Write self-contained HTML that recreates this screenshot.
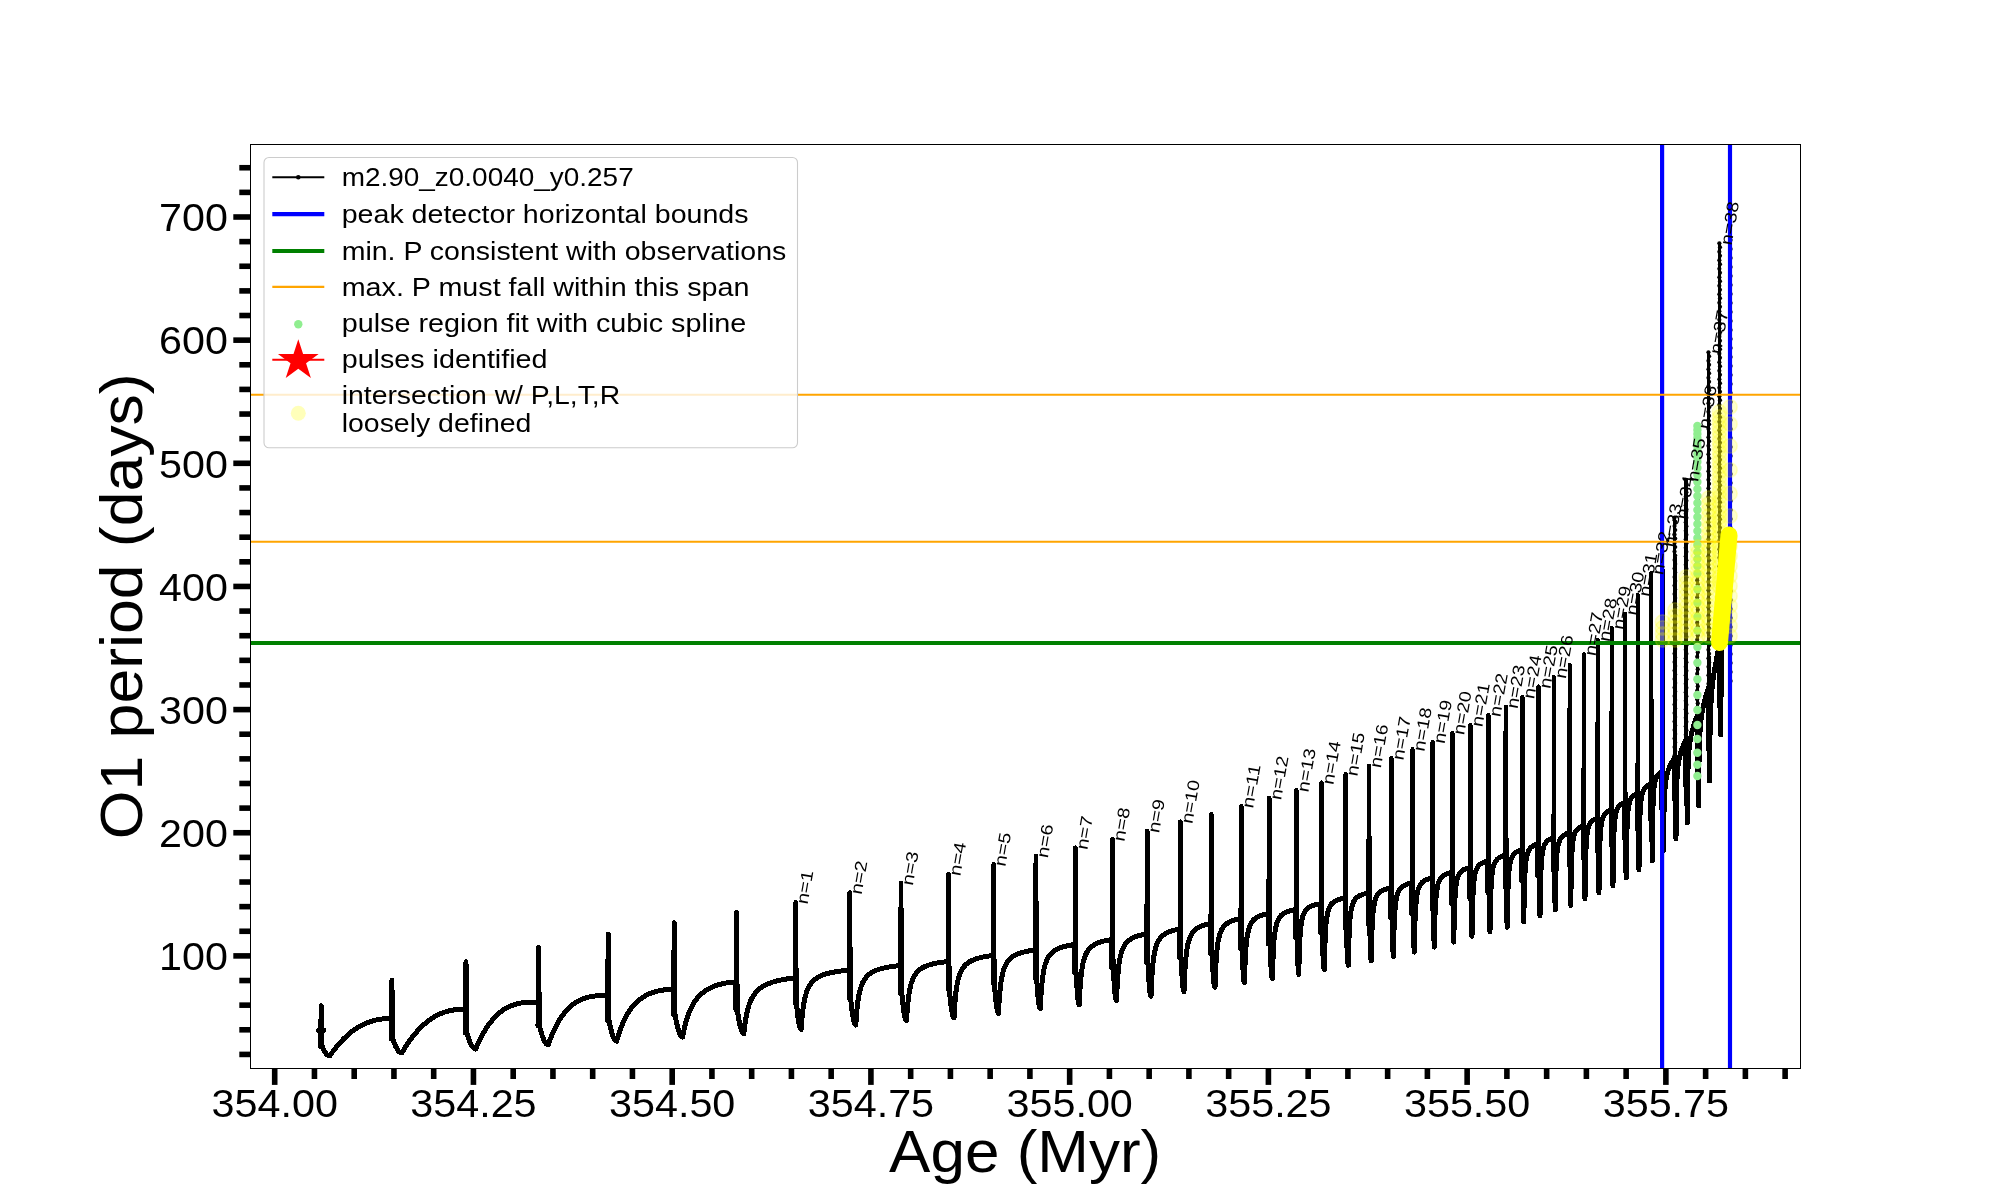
<!DOCTYPE html>
<html><head><meta charset="utf-8"><title>O1 period vs Age</title>
<style>
html,body{margin:0;padding:0;background:#fff;overflow:hidden;}
svg{display:block;font-family:"Liberation Sans",sans-serif;will-change:transform;}
.tk{stroke:#000;stroke-width:5.6;}
.lab text{font-size:16.8px;fill:#000;}
.tl text{font-size:38.5px;fill:#000;}
.lg text{font-size:26.3px;fill:#000;}
</style></head><body>
<svg width="2000" height="1200" viewBox="0 0 2000 1200">
<defs><clipPath id="ax"><rect x="250.5" y="144.5" width="1549.5" height="923.7"/></clipPath></defs>
<rect width="2000" height="1200" fill="#fff"/>
<g clip-path="url(#ax)">
<path d="M318.6 1030.2 L323.6 1030.2 L320.6 1030.2 L320.6 1046.5 M321.9 1045.5 L323.21 1048.68 L324.52 1051.28 L325.82 1053.3 L327.13 1054.74 L328.44 1055.61 L329.75 1055.9 L330.02 1055.51 L330.56 1054.73 L331.3 1053.69 L332.2 1052.43 L333.25 1051.01 L334.44 1049.45 L335.75 1047.78 L337.18 1046.02 L338.72 1044.2 L340.36 1042.34 L342.11 1040.46 L343.96 1038.57 L345.9 1036.69 L347.93 1034.85 L350.05 1033.04 L352.26 1031.3 L354.56 1029.63 L356.93 1028.04 L359.39 1026.54 L361.92 1025.15 L364.53 1023.88 L367.22 1022.73 L369.98 1021.71 L372.82 1020.83 L375.73 1020.08 L378.7 1019.48 L381.75 1019.03 L384.87 1018.72 L388.05 1018.55 L391.3 1018.5 L391.3 1018.5 L391.3 1039 M392.6 1038 L394.13 1042.58 L395.67 1046.33 L397.2 1049.25 L398.73 1051.33 L400.27 1052.58 L401.8 1053 L402.06 1052.55 L402.59 1051.65 L403.32 1050.44 L404.2 1048.99 L405.23 1047.34 L406.4 1045.54 L407.68 1043.6 L409.08 1041.57 L410.59 1039.47 L412.21 1037.32 L413.92 1035.14 L415.73 1032.96 L417.63 1030.8 L419.63 1028.66 L421.71 1026.58 L423.87 1024.56 L426.12 1022.63 L428.45 1020.79 L430.86 1019.06 L433.34 1017.44 L435.91 1015.96 L438.54 1014.61 L441.25 1013.4 L444.03 1012.35 L446.88 1011.45 L449.8 1010.7 L452.79 1010.11 L455.84 1009.68 L458.96 1009.39 L462.15 1009.24 L465.4 1009.2 L465.4 1009.2 L465.4 1033 M466.7 1032 L468.18 1037.19 L469.67 1041.44 L471.15 1044.75 L472.63 1047.11 L474.12 1048.53 L475.6 1049 L475.86 1048.4 L476.38 1047.19 L477.09 1045.58 L477.96 1043.67 L478.97 1041.53 L480.11 1039.2 L481.37 1036.75 L482.74 1034.21 L484.23 1031.62 L485.81 1029.03 L487.49 1026.45 L489.27 1023.92 L491.14 1021.47 L493.09 1019.11 L495.13 1016.87 L497.26 1014.77 L499.46 1012.81 L501.75 1011.01 L504.11 1009.38 L506.55 1007.92 L509.06 1006.64 L511.65 1005.53 L514.31 1004.59 L517.03 1003.82 L519.83 1003.2 L522.69 1002.73 L525.63 1002.4 L528.62 1002.18 L531.68 1002.06 L534.81 1002.01 L538 1002 L538 1002 L538 1026 M539.3 1025 L540.78 1031.05 L542.27 1036 L543.75 1039.85 L545.23 1042.6 L546.72 1044.25 L548.2 1044.8 L548.47 1044.01 L549.02 1042.45 L549.78 1040.4 L550.7 1037.98 L551.77 1035.32 L552.98 1032.48 L554.31 1029.55 L555.77 1026.57 L557.34 1023.6 L559.01 1020.69 L560.79 1017.86 L562.68 1015.16 L564.65 1012.59 L566.72 1010.19 L568.89 1007.96 L571.14 1005.92 L573.47 1004.07 L575.89 1002.41 L578.4 1000.95 L580.98 999.68 L583.64 998.6 L586.38 997.69 L589.19 996.96 L592.08 996.39 L595.04 995.97 L598.08 995.68 L601.18 995.5 L604.36 995.42 L607.6 995.4 L607.6 995.4 L607.6 1020.6 M608.9 1019.6 L610.18 1026.2 L611.47 1031.6 L612.75 1035.8 L614.03 1038.8 L615.32 1040.6 L616.6 1041.2 L616.88 1040.21 L617.44 1038.26 L618.2 1035.74 L619.13 1032.84 L620.22 1029.71 L621.45 1026.46 L622.8 1023.19 L624.28 1019.95 L625.87 1016.8 L627.58 1013.78 L629.38 1010.92 L631.29 1008.23 L633.3 1005.73 L635.4 1003.42 L637.6 1001.3 L639.88 999.38 L642.25 997.64 L644.71 996.1 L647.25 994.73 L649.87 993.54 L652.57 992.52 L655.35 991.65 L658.21 990.94 L661.14 990.37 L664.15 989.93 L667.23 989.63 L670.38 989.46 L673.6 989.4 L673.6 989.4 L673.6 1014.6 M674.9 1013.6 L676.18 1020.75 L677.47 1026.6 L678.75 1031.15 L680.03 1034.4 L681.32 1036.35 L682.6 1037 L682.89 1035.39 L683.48 1032.32 L684.28 1028.54 L685.27 1024.43 L686.41 1020.26 L687.7 1016.2 L689.13 1012.34 L690.69 1008.74 L692.36 1005.43 L694.15 1002.42 L696.06 999.68 L698.07 997.22 L700.18 995.01 L702.4 993.03 L704.71 991.26 L707.11 989.69 L709.61 988.3 L712.19 987.06 L714.87 985.98 L717.63 985.04 L720.47 984.23 L723.4 983.54 L726.41 982.96 L729.49 982.51 L732.66 982.17 L735.9 982 L735.9 982 L735.9 1009.6 M737.2 1008.6 L738.3 1016.3 L739.4 1022.6 L740.5 1027.5 L741.6 1031 L742.7 1033.1 L743.8 1033.8 L744.1 1030.91 L744.7 1025.79 L745.53 1020.07 L746.53 1014.51 L747.71 1009.45 L749.03 1004.99 L750.49 1001.13 L752.09 997.81 L753.8 994.97 L755.64 992.53 L757.59 990.44 L759.65 988.62 L761.82 987.05 L764.09 985.68 L766.45 984.48 L768.92 983.43 L771.48 982.49 L774.13 981.66 L776.87 980.92 L779.7 980.26 L782.61 979.67 L785.61 979.13 L788.69 978.64 L791.86 978.2 L795.1 977.8 L795.1 977.8 L795.1 1003 M796.4 1002 L797.2 1010.4 L798 1017.28 L798.8 1022.62 L799.6 1026.44 L800.4 1028.74 L801.2 1029.5 L801.52 1024.59 L802.16 1016.63 L803.04 1008.68 L804.12 1001.78 L805.38 996.08 L806.79 991.47 L808.36 987.75 L810.06 984.75 L811.9 982.29 L813.86 980.28 L815.95 978.6 L818.15 977.2 L820.47 976.01 L822.89 975 L825.42 974.13 L828.06 973.37 L830.79 972.72 L833.63 972.14 L836.56 971.63 L839.58 971.18 L842.7 970.78 L845.9 970.42 L849.2 970.1 L849.2 970.1 L849.2 998.5 M850.5 997.5 L851.38 1005.9 L852.27 1012.78 L853.15 1018.12 L854.03 1021.94 L854.92 1024.24 L855.8 1025 L856.12 1019.75 L856.76 1011.36 L857.64 1003.14 L858.72 996.1 L859.97 990.38 L861.38 985.81 L862.94 982.15 L864.64 979.22 L866.47 976.84 L868.43 974.89 L870.51 973.28 L872.71 971.94 L875.02 970.8 L877.44 969.84 L879.97 969.01 L882.59 968.29 L885.32 967.67 L888.15 967.12 L891.07 966.64 L894.09 966.22 L897.2 965.84 L900.4 965.5 L900.4 965.5 L900.4 993 M901.7 992 L902.52 1000.68 L903.33 1007.78 L904.15 1013.3 L904.97 1017.24 L905.78 1019.61 L906.6 1020.4 L906.94 1014.43 L907.64 1005.2 L908.59 996.53 L909.75 989.38 L911.11 983.74 L912.63 979.34 L914.32 975.89 L916.16 973.16 L918.14 970.98 L920.26 969.2 L922.51 967.75 L924.88 966.54 L927.38 965.53 L930 964.68 L932.73 963.94 L935.57 963.31 L938.52 962.77 L941.58 962.29 L944.74 961.87 L948 961.5 L948 961.5 L948 989 M949.3 988 L950.08 997.11 L950.87 1004.56 L951.65 1010.35 L952.43 1014.49 L953.22 1016.97 L954 1017.8 L954.35 1011 L955.06 1000.7 L956.03 991.24 L957.22 983.61 L958.61 977.68 L960.17 973.12 L961.89 969.58 L963.77 966.8 L965.8 964.59 L967.97 962.8 L970.27 961.34 L972.7 960.14 L975.25 959.13 L977.93 958.28 L980.72 957.55 L983.62 956.93 L986.64 956.39 L989.77 955.91 L993 955.5 L993 955.5 L993 983 M994.3 982 L995 991.56 L995.7 999.39 L996.4 1005.47 L997.1 1009.82 L997.8 1012.43 L998.5 1013.3 L998.86 1005.83 L999.59 994.78 L1000.59 984.89 L1001.82 977.08 L1003.24 971.13 L1004.85 966.6 L1006.62 963.13 L1008.55 960.42 L1010.64 958.28 L1012.87 956.56 L1015.24 955.16 L1017.74 954.01 L1020.36 953.05 L1023.12 952.24 L1025.99 951.55 L1028.98 950.96 L1032.08 950.45 L1035.3 950 L1035.3 950 L1035.3 978 M1036.6 977 L1037.22 986.72 L1037.83 994.67 L1038.45 1000.85 L1039.07 1005.27 L1039.68 1007.92 L1040.3 1008.8 L1040.67 1000.58 L1041.42 988.7 L1042.45 978.39 L1043.71 970.43 L1045.17 964.48 L1046.82 960.01 L1048.64 956.62 L1050.63 954 L1052.77 951.94 L1055.06 950.3 L1057.49 948.96 L1060.06 947.87 L1062.76 946.96 L1065.59 946.19 L1068.54 945.54 L1071.61 944.98 L1074.8 944.5 L1074.8 944.5 L1074.8 973 M1076.1 972 L1076.62 982.02 L1077.13 990.22 L1077.65 996.6 L1078.17 1001.16 L1078.68 1003.89 L1079.2 1004.8 L1079.59 995.71 L1080.37 982.96 L1081.45 972.22 L1082.76 964.16 L1084.29 958.23 L1086.01 953.85 L1087.91 950.56 L1089.99 948.04 L1092.22 946.07 L1094.62 944.51 L1097.15 943.24 L1099.84 942.21 L1102.66 941.35 L1105.61 940.63 L1108.69 940.02 L1111.9 939.5 L1111.9 939.5 L1111.9 968 M1113.2 967 L1113.75 977.33 L1114.3 985.78 L1114.85 992.35 L1115.4 997.04 L1115.95 999.86 L1116.5 1000.8 L1116.9 990.63 L1117.7 976.83 L1118.79 965.62 L1120.13 957.42 L1121.69 951.52 L1123.45 947.22 L1125.39 944.03 L1127.51 941.6 L1129.79 939.72 L1132.23 938.23 L1134.83 937.03 L1137.56 936.06 L1140.44 935.25 L1143.45 934.57 L1146.6 934 L1146.6 934 L1146.6 962.5 M1147.9 961.5 L1148.42 972.13 L1148.93 980.83 L1149.45 987.6 L1149.97 992.43 L1150.48 995.33 L1151 996.3 L1151.42 985.04 L1152.28 970.34 L1153.45 958.85 L1154.88 950.69 L1156.55 944.95 L1158.42 940.83 L1160.5 937.8 L1162.76 935.52 L1165.2 933.76 L1167.81 932.38 L1170.58 931.27 L1173.5 930.37 L1176.58 929.62 L1179.8 929 L1179.8 929 L1179.8 958 M1181.1 957 L1181.58 967.63 L1182.07 976.33 L1182.55 983.1 L1183.03 987.93 L1183.52 990.83 L1184 991.8 L1184.44 979.18 L1185.34 963.41 L1186.56 951.62 L1188.05 943.5 L1189.79 937.92 L1191.75 933.98 L1193.92 931.11 L1196.28 928.97 L1198.82 927.33 L1201.55 926.04 L1204.44 925.02 L1207.49 924.18 L1210.7 923.5 L1210.7 923.5 L1210.7 953.5 M1212 952.5 L1212.5 963.13 L1213 971.83 L1213.5 978.6 L1214 983.43 L1214.5 986.33 L1215 987.3 L1215.48 972.13 L1216.46 954.86 L1217.8 943.02 L1219.43 935.35 L1221.33 930.29 L1223.48 926.81 L1225.85 924.33 L1228.43 922.5 L1231.22 921.12 L1234.2 920.04 L1237.36 919.19 L1240.7 918.5 L1240.7 918.5 L1240.7 949 M1242 948 L1242.42 958.63 L1242.83 967.33 L1243.25 974.1 L1243.67 978.93 L1244.08 981.83 L1244.5 982.8 L1244.95 966.27 L1245.87 948.36 L1247.12 936.59 L1248.66 929.2 L1250.44 924.4 L1252.45 921.14 L1254.67 918.84 L1257.1 917.16 L1259.71 915.89 L1262.5 914.9 L1265.47 914.13 L1268.6 913.5 L1268.6 913.5 L1268.6 944 M1269.9 943 L1270.33 953.94 L1270.77 962.89 L1271.2 969.85 L1271.63 974.82 L1272.07 977.81 L1272.5 978.8 L1273 958.81 L1274.02 939.81 L1275.41 928.6 L1277.12 922 L1279.1 917.88 L1281.33 915.17 L1283.81 913.28 L1286.5 911.92 L1289.4 910.9 L1292.5 910.12 L1295.8 909.5 L1295.8 909.5 L1295.8 937.5 M1297.1 936.5 L1297.38 948.14 L1297.67 957.67 L1297.95 965.08 L1298.23 970.37 L1298.52 973.54 L1298.8 974.6 L1299.27 952.18 L1300.24 932.45 L1301.55 921.45 L1303.16 915.19 L1305.03 911.37 L1307.14 908.87 L1309.47 907.16 L1312.02 905.92 L1314.76 905 L1317.69 904.3 L1320.8 903.75 L1320.8 903.75 L1320.8 932.5 M1322.1 931.5 L1322.48 943.14 L1322.87 952.67 L1323.25 960.08 L1323.63 965.37 L1324.02 968.54 L1324.4 969.6 L1324.92 944.46 L1325.97 924.22 L1327.4 913.63 L1329.16 907.81 L1331.2 904.32 L1333.5 902.07 L1336.04 900.53 L1338.81 899.43 L1341.8 898.62 L1345 898 L1345 898 L1345 928.2 M1346.3 927.2 L1346.65 938.84 L1347 948.37 L1347.35 955.77 L1347.7 961.07 L1348.05 964.24 L1348.4 965.3 L1348.9 939.91 L1349.92 919.48 L1351.31 908.78 L1353.02 902.9 L1355 899.38 L1357.23 897.11 L1359.7 895.56 L1362.4 894.45 L1365.3 893.63 L1368.4 893 L1368.4 893 L1368.4 923.8 M1369.7 922.8 L1369.97 934.44 L1370.23 943.97 L1370.5 951.38 L1370.77 956.67 L1371.03 959.84 L1371.3 960.9 L1371.88 932.36 L1373.06 911.67 L1374.66 901.56 L1376.63 896.2 L1378.91 893.04 L1381.49 891.04 L1384.34 889.68 L1387.45 888.71 L1390.8 888 L1390.8 888 L1390.8 918.2 M1392.1 917.2 L1392.33 929.21 L1392.57 939.03 L1392.8 946.67 L1393.03 952.13 L1393.27 955.41 L1393.5 956.5 L1394.05 927.72 L1395.16 906.86 L1396.67 896.67 L1398.53 891.26 L1400.68 888.09 L1403.12 886.06 L1405.81 884.69 L1408.74 883.72 L1411.9 883 L1411.9 883 L1411.9 913.8 M1413.2 912.8 L1413.4 924.84 L1413.6 934.69 L1413.8 942.35 L1414 947.82 L1414.2 951.11 L1414.4 952.2 L1415.04 919.64 L1416.33 898.82 L1418.08 889.38 L1420.24 884.54 L1422.74 881.76 L1425.57 880.01 L1428.7 878.83 L1432.1 878 L1432.1 878 L1432.1 908.8 M1433.4 907.8 L1433.57 919.84 L1433.73 929.69 L1433.9 937.35 L1434.07 942.82 L1434.23 946.11 L1434.4 947.2 L1435.02 914.42 L1436.28 893.46 L1438 883.95 L1440.11 879.09 L1442.56 876.29 L1445.32 874.52 L1448.37 873.34 L1451.7 872.5 L1451.7 872.5 L1451.7 903.8 M1453 902.8 L1453.13 914.84 L1453.27 924.69 L1453.4 932.35 L1453.53 937.82 L1453.67 941.11 L1453.8 942.2 L1454.37 909.42 L1455.54 888.46 L1457.13 878.95 L1459.08 874.09 L1461.34 871.29 L1463.9 869.52 L1466.72 868.34 L1469.8 867.5 L1469.8 867.5 L1469.8 898.3 M1471.1 897.3 L1471.25 909.22 L1471.4 918.97 L1471.55 926.55 L1471.7 931.97 L1471.85 935.22 L1472 936.3 L1472.57 903.26 L1473.72 882.13 L1475.29 872.55 L1477.21 867.64 L1479.45 864.82 L1481.97 863.04 L1484.76 861.84 L1487.8 861 L1487.8 861 L1487.8 892.3 M1489.1 891.3 L1489.25 903.67 L1489.4 913.8 L1489.55 921.67 L1489.7 927.3 L1489.85 930.67 L1490 931.8 L1490.55 898.21 L1491.65 876.73 L1493.16 866.99 L1495.01 862 L1497.17 859.13 L1499.59 857.32 L1502.28 856.11 L1505.2 855.25 L1505.2 855.25 L1505.2 887 M1506.5 886 L1506.63 898.62 L1506.77 908.94 L1506.9 916.97 L1507.03 922.71 L1507.17 926.15 L1507.3 927.3 L1507.82 893.38 L1508.87 871.69 L1510.3 861.85 L1512.05 856.82 L1514.09 853.92 L1516.39 852.09 L1518.93 850.87 L1521.7 850 L1521.7 850 L1521.7 881 M1523 880 L1523.13 892.83 L1523.27 903.33 L1523.4 911.5 L1523.53 917.33 L1523.67 920.83 L1523.8 922 L1524.31 887.77 L1525.33 865.88 L1526.74 855.96 L1528.45 850.88 L1530.45 847.95 L1532.7 846.11 L1535.19 844.87 L1537.9 844 L1537.9 844 L1537.9 875.8 M1539.2 874.8 L1539.33 887.39 L1539.47 897.69 L1539.6 905.7 L1539.73 911.42 L1539.87 914.86 L1540 916 L1540.48 881.77 L1541.45 859.88 L1542.77 849.96 L1544.39 844.88 L1546.27 841.95 L1548.39 840.11 L1550.74 838.87 L1553.3 838 L1553.3 838 L1553.3 869.8 M1554.6 868.8 L1554.72 881.39 L1554.83 891.69 L1554.95 899.7 L1555.07 905.42 L1555.18 908.86 L1555.3 910 L1555.79 876.21 L1556.79 854.6 L1558.15 844.81 L1559.82 839.79 L1561.76 836.9 L1563.95 835.09 L1566.36 833.86 L1569 833 L1569 833 L1569 864.5 M1570.3 863.5 L1570.38 876.33 L1570.47 886.83 L1570.55 895 L1570.63 900.83 L1570.72 904.33 L1570.8 905.5 L1571.25 870.62 L1572.15 848.3 L1573.38 838.19 L1574.89 833.01 L1576.65 830.03 L1578.63 828.15 L1580.81 826.89 L1583.2 826 L1583.2 826 L1583.2 858 M1584.5 857 L1584.58 869.83 L1584.67 880.33 L1584.75 888.5 L1584.83 894.33 L1584.92 897.83 L1585 899 L1585.43 863.68 L1586.32 841.09 L1587.52 830.84 L1588.99 825.6 L1590.7 822.58 L1592.64 820.68 L1594.77 819.4 L1597.1 818.5 L1597.1 818.5 L1597.1 851 M1598.4 850 L1598.5 863.05 L1598.6 873.72 L1598.7 882.03 L1598.8 887.96 L1598.9 891.51 L1599 892.7 L1599.43 856.41 L1600.32 833.2 L1601.52 822.68 L1602.99 817.29 L1604.7 814.19 L1606.64 812.24 L1608.77 810.93 L1611.1 810 L1611.1 810 L1611.1 845.3 M1612.4 844.3 L1612.5 856.95 L1612.6 867.3 L1612.7 875.35 L1612.8 881.1 L1612.9 884.55 L1613 885.7 L1613.41 849.19 L1614.24 825.84 L1615.37 815.26 L1616.76 809.84 L1618.37 806.72 L1620.19 804.75 L1622.21 803.43 L1624.4 802.5 L1624.4 802.5 L1624.4 837.8 M1625.7 836.8 L1625.78 849.39 L1625.87 859.69 L1625.95 867.7 L1626.03 873.42 L1626.12 876.86 L1626.2 878 L1626.6 840.92 L1627.41 817.21 L1628.51 806.46 L1629.86 800.95 L1631.43 797.78 L1633.21 795.79 L1635.16 794.45 L1637.3 793.5 L1637.3 793.5 L1637.3 829 M1638.6 828 L1638.67 840.83 L1638.73 851.33 L1638.8 859.5 L1638.87 865.33 L1638.93 868.83 L1639 870 L1639.42 832.26 L1640.26 808.13 L1641.41 797.19 L1642.83 791.59 L1644.47 788.36 L1646.32 786.33 L1648.37 784.96 L1650.6 784 L1650.6 784 L1650.6 819.6 M1651.9 818.6 L1651.95 831.56 L1652 842.16 L1652.05 850.4 L1652.1 856.29 L1652.15 859.82 L1652.2 861 L1652.55 821.95 L1653.26 796.97 L1654.22 785.65 L1655.4 779.85 L1656.77 776.51 L1658.32 774.41 L1660.03 773 L1661.9 772 L1661.9 772 L1661.9 809 M1663.2 808 L1663.25 821.14 L1663.3 831.89 L1663.35 840.25 L1663.4 846.22 L1663.45 849.81 L1663.5 851 L1663.89 815.62 L1664.69 792.31 L1665.77 780.86 L1667.1 774.04 L1668.64 769.15 L1670.38 765.12 L1672.3 761.48 L1674.4 758 L1674.4 758 L1674.4 799 M1675.5 798 L1675.75 810.53 L1675.8 820.78 L1675.85 828.75 L1675.9 834.44 L1675.95 837.86 L1676 839 L1676.34 802.46 L1677.04 778.23 L1678 766.11 L1679.17 758.69 L1680.53 753.2 L1682.06 748.53 L1683.75 744.21 L1685.6 740 L1685.6 740 L1685.6 785 M1686.7 784 L1686.95 795.92 L1687 805.67 L1687.05 813.25 L1687.1 818.67 L1687.15 821.92 L1687.2 823 L1687.55 785.26 L1688.27 759.98 L1689.24 747.01 L1690.43 738.74 L1691.82 732.35 L1693.38 726.71 L1695.11 721.34 L1697 716 L1697 716 L1697 771 M1698.1 770 L1698.35 781 L1698.4 790 L1698.45 797 L1698.5 802 L1698.55 805 L1698.6 806 L1698.95 764.96 L1699.66 737.38 L1700.62 723.11 L1701.8 713.92 L1703.17 706.72 L1704.72 700.31 L1706.43 694.15 L1708.3 688 L1708.3 688 L1708.3 749 M1709.4 748 L1709.6 758.08 L1709.6 766.33 L1709.6 772.75 L1709.6 777.33 L1709.6 780.08 L1709.6 781 L1709.94 738.32 L1710.64 708.97 L1711.6 692.94 L1712.77 681.83 L1714.13 672.49 L1715.66 663.71 L1717.35 654.96 L1719.2 646 L1719.2 646 L1719.2 706 M1720.3 705 L1720.52 714.17 L1720.53 721.67 L1720.55 727.5 L1720.57 731.67 L1720.58 734.17 L1720.6 735 L1721 700 L1721.4 660 L1722.3 638 L1725 595 L1729 540" fill="none" stroke="#000" stroke-width="5" stroke-linejoin="round" stroke-linecap="round" shape-rendering="crispEdges"/>
<path d="M320.6 1046.5 L321.2 1005.65 L321.9 1045.5" fill="none" stroke="#000" stroke-width="5.0" stroke-linejoin="round" stroke-linecap="round" shape-rendering="crispEdges"/><path d="M391.3 1039 L391.9 979.95 L392.6 1038" fill="none" stroke="#000" stroke-width="5.0" stroke-linejoin="round" stroke-linecap="round" shape-rendering="crispEdges"/><path d="M465.4 1033 L466 961.65 L466.7 1032" fill="none" stroke="#000" stroke-width="5.0" stroke-linejoin="round" stroke-linecap="round" shape-rendering="crispEdges"/><path d="M538 1026 L538.6 947.25 L539.3 1025" fill="none" stroke="#000" stroke-width="5.0" stroke-linejoin="round" stroke-linecap="round" shape-rendering="crispEdges"/><path d="M607.6 1020.6 L608.2 934.05 L608.9 1019.6" fill="none" stroke="#000" stroke-width="5.0" stroke-linejoin="round" stroke-linecap="round" shape-rendering="crispEdges"/><path d="M673.6 1014.6 L674.2 922.65 L674.9 1013.6" fill="none" stroke="#000" stroke-width="5.0" stroke-linejoin="round" stroke-linecap="round" shape-rendering="crispEdges"/><path d="M735.9 1009.6 L736.5 912.55 L737.2 1008.6" fill="none" stroke="#000" stroke-width="5.0" stroke-linejoin="round" stroke-linecap="round" shape-rendering="crispEdges"/><path d="M795.1 1003 L795.7 902.25 L796.4 1002" fill="none" stroke="#000" stroke-width="4.7" stroke-linejoin="round" stroke-linecap="round" shape-rendering="crispEdges"/><path d="M849.2 998.5 L849.8 892.55 L850.5 997.5" fill="none" stroke="#000" stroke-width="4.7" stroke-linejoin="round" stroke-linecap="round" shape-rendering="crispEdges"/><path d="M900.4 993 L901 883.35 L901.7 992" fill="none" stroke="#000" stroke-width="4.7" stroke-linejoin="round" stroke-linecap="round" shape-rendering="crispEdges"/><path d="M948 989 L948.6 873.95 L949.3 988" fill="none" stroke="#000" stroke-width="4.7" stroke-linejoin="round" stroke-linecap="round" shape-rendering="crispEdges"/><path d="M993 983 L993.6 864.35 L994.3 982" fill="none" stroke="#000" stroke-width="4.7" stroke-linejoin="round" stroke-linecap="round" shape-rendering="crispEdges"/><path d="M1035.3 978 L1035.9 856.05 L1036.6 977" fill="none" stroke="#000" stroke-width="4.7" stroke-linejoin="round" stroke-linecap="round" shape-rendering="crispEdges"/><path d="M1074.8 973 L1075.4 847.75 L1076.1 972" fill="none" stroke="#000" stroke-width="4.7" stroke-linejoin="round" stroke-linecap="round" shape-rendering="crispEdges"/><path d="M1111.9 968 L1112.5 839.35 L1113.2 967" fill="none" stroke="#000" stroke-width="4.7" stroke-linejoin="round" stroke-linecap="round" shape-rendering="crispEdges"/><path d="M1146.6 962.5 L1147.2 831.05 L1147.9 961.5" fill="none" stroke="#000" stroke-width="4.7" stroke-linejoin="round" stroke-linecap="round" shape-rendering="crispEdges"/><path d="M1179.8 958 L1180.4 821.75 L1181.1 957" fill="none" stroke="#000" stroke-width="4.7" stroke-linejoin="round" stroke-linecap="round" shape-rendering="crispEdges"/><path d="M1210.7 953.5 L1211.3 814.25 L1212 952.5" fill="none" stroke="#000" stroke-width="4.7" stroke-linejoin="round" stroke-linecap="round" shape-rendering="crispEdges"/><path d="M1240.7 949 L1241.3 806.25 L1242 948" fill="none" stroke="#000" stroke-width="4.7" stroke-linejoin="round" stroke-linecap="round" shape-rendering="crispEdges"/><path d="M1268.6 944 L1269.2 797.85 L1269.9 943" fill="none" stroke="#000" stroke-width="4.7" stroke-linejoin="round" stroke-linecap="round" shape-rendering="crispEdges"/><path d="M1295.8 937.5 L1296.4 790.15 L1297.1 936.5" fill="none" stroke="#000" stroke-width="4.4" stroke-linejoin="round" stroke-linecap="round" shape-rendering="crispEdges"/><path d="M1320.8 932.5 L1321.4 782.65 L1322.1 931.5" fill="none" stroke="#000" stroke-width="4.4" stroke-linejoin="round" stroke-linecap="round" shape-rendering="crispEdges"/><path d="M1345 928.2 L1345.6 774.15 L1346.3 927.2" fill="none" stroke="#000" stroke-width="4.4" stroke-linejoin="round" stroke-linecap="round" shape-rendering="crispEdges"/><path d="M1368.4 923.8 L1369 765.95 L1369.7 922.8" fill="none" stroke="#000" stroke-width="4.4" stroke-linejoin="round" stroke-linecap="round" shape-rendering="crispEdges"/><path d="M1390.8 918.2 L1391.4 758.15 L1392.1 917.2" fill="none" stroke="#000" stroke-width="4.4" stroke-linejoin="round" stroke-linecap="round" shape-rendering="crispEdges"/><path d="M1411.9 913.8 L1412.5 749.35 L1413.2 912.8" fill="none" stroke="#000" stroke-width="4.4" stroke-linejoin="round" stroke-linecap="round" shape-rendering="crispEdges"/><path d="M1432.1 908.8 L1432.7 741.75 L1433.4 907.8" fill="none" stroke="#000" stroke-width="4.4" stroke-linejoin="round" stroke-linecap="round" shape-rendering="crispEdges"/><path d="M1451.7 903.8 L1452.3 733.05 L1453 902.8" fill="none" stroke="#000" stroke-width="4.4" stroke-linejoin="round" stroke-linecap="round" shape-rendering="crispEdges"/><path d="M1469.8 898.3 L1470.4 724.85 L1471.1 897.3" fill="none" stroke="#000" stroke-width="4.4" stroke-linejoin="round" stroke-linecap="round" shape-rendering="crispEdges"/><path d="M1487.8 892.3 L1488.4 714.95 L1489.1 891.3" fill="none" stroke="#000" stroke-width="4.4" stroke-linejoin="round" stroke-linecap="round" shape-rendering="crispEdges"/><path d="M1505.2 887 L1505.8 706.75 L1506.5 886" fill="none" stroke="#000" stroke-width="4.4" stroke-linejoin="round" stroke-linecap="round" shape-rendering="crispEdges"/><path d="M1521.7 881 L1522.3 696.85 L1523 880" fill="none" stroke="#000" stroke-width="4.4" stroke-linejoin="round" stroke-linecap="round" shape-rendering="crispEdges"/><path d="M1537.9 875.8 L1538.5 686.65 L1539.2 874.8" fill="none" stroke="#000" stroke-width="4.4" stroke-linejoin="round" stroke-linecap="round" shape-rendering="crispEdges"/><path d="M1553.3 869.8 L1553.9 676.75 L1554.6 868.8" fill="none" stroke="#000" stroke-width="3.9" stroke-linejoin="round" stroke-linecap="round" shape-rendering="crispEdges"/><path d="M1569 864.5 L1569.6 664.55 L1570.3 863.5" fill="none" stroke="#000" stroke-width="3.9" stroke-linejoin="round" stroke-linecap="round" shape-rendering="crispEdges"/><path d="M1583.2 858 L1583.8 654.05 L1584.5 857" fill="none" stroke="#000" stroke-width="3.9" stroke-linejoin="round" stroke-linecap="round" shape-rendering="crispEdges"/><path d="M1597.1 851 L1597.7 639.75 L1598.4 850" fill="none" stroke="#000" stroke-width="3.9" stroke-linejoin="round" stroke-linecap="round" shape-rendering="crispEdges"/><path d="M1611.1 845.3 L1611.7 627.65 L1612.4 844.3" fill="none" stroke="#000" stroke-width="3.9" stroke-linejoin="round" stroke-linecap="round" shape-rendering="crispEdges"/><path d="M1624.4 837.8 L1625 613.45 L1625.7 836.8" fill="none" stroke="#000" stroke-width="3.9" stroke-linejoin="round" stroke-linecap="round" shape-rendering="crispEdges"/><path d="M1637.3 829 L1637.9 594.65 L1638.6 828" fill="none" stroke="#000" stroke-width="3.9" stroke-linejoin="round" stroke-linecap="round" shape-rendering="crispEdges"/><path d="M1650.6 819.6 L1651.2 572.95 L1651.9 818.6" fill="none" stroke="#000" stroke-width="3.9" stroke-linejoin="round" stroke-linecap="round" shape-rendering="crispEdges"/><path d="M1661.9 809 L1662.5 545.25 L1663.2 808" fill="none" stroke="#000" stroke-width="3.9" stroke-linejoin="round" stroke-linecap="round" shape-rendering="crispEdges"/><path d="M1674.4 799 L1674.7 517.55 L1675.5 798" fill="none" stroke="#000" stroke-width="3.4" stroke-linejoin="round" stroke-linecap="round" shape-rendering="crispEdges"/><path d="M1685.6 785 L1685.9 479.75 L1686.7 784" fill="none" stroke="#000" stroke-width="3.4" stroke-linejoin="round" stroke-linecap="round" shape-rendering="crispEdges"/><path d="M1697 771 L1697.3 427.25 L1698.1 770" fill="none" stroke="#000" stroke-width="2.6" stroke-linejoin="round" stroke-linecap="round" shape-rendering="crispEdges"/><path d="M1708.3 749 L1708.6 352.25 L1709.4 748" fill="none" stroke="#000" stroke-width="2.6" stroke-linejoin="round" stroke-linecap="round" shape-rendering="crispEdges"/><path d="M1719.2 706 L1719.5 243.25 L1720.3 705" fill="none" stroke="#000" stroke-width="2.6" stroke-linejoin="round" stroke-linecap="round" shape-rendering="crispEdges"/><path d="M1729 540 L1730.2 238 L1730.9 690" fill="none" stroke="#000" stroke-width="2.6" stroke-linejoin="round" stroke-linecap="round" shape-rendering="crispEdges"/>
<g fill="#000"><circle cx="1674.55" cy="517.55" r="2.1"/><circle cx="1675.2" cy="521.55" r="2.1"/><circle cx="1674.55" cy="526.05" r="2.1"/><circle cx="1675.2" cy="530.05" r="2.1"/><circle cx="1674.55" cy="534.55" r="2.1"/><circle cx="1675.2" cy="538.55" r="2.1"/><circle cx="1674.55" cy="543.05" r="2.1"/><circle cx="1675.2" cy="547.05" r="2.1"/><circle cx="1674.55" cy="551.55" r="2.1"/><circle cx="1675.2" cy="555.55" r="2.1"/><circle cx="1674.55" cy="560.05" r="2.1"/><circle cx="1675.2" cy="564.05" r="2.1"/><circle cx="1674.55" cy="568.55" r="2.1"/><circle cx="1675.2" cy="572.55" r="2.1"/><circle cx="1674.55" cy="577.05" r="2.1"/><circle cx="1675.2" cy="581.05" r="2.1"/><circle cx="1674.55" cy="585.55" r="2.1"/><circle cx="1675.2" cy="589.55" r="2.1"/><circle cx="1674.55" cy="594.05" r="2.1"/><circle cx="1675.2" cy="598.05" r="2.1"/><circle cx="1674.55" cy="602.55" r="2.1"/><circle cx="1675.2" cy="606.55" r="2.1"/><circle cx="1674.55" cy="611.05" r="2.1"/><circle cx="1675.2" cy="615.05" r="2.1"/><circle cx="1674.55" cy="619.55" r="2.1"/><circle cx="1675.2" cy="623.55" r="2.1"/><circle cx="1674.55" cy="628.05" r="2.1"/><circle cx="1675.2" cy="632.05" r="2.1"/><circle cx="1674.55" cy="636.55" r="2.1"/><circle cx="1675.2" cy="640.55" r="2.1"/><circle cx="1674.55" cy="645.05" r="2.1"/><circle cx="1675.2" cy="649.05" r="2.1"/><circle cx="1674.55" cy="653.55" r="2.1"/><circle cx="1675.2" cy="657.55" r="2.1"/><circle cx="1674.55" cy="662.05" r="2.1"/><circle cx="1675.2" cy="666.05" r="2.1"/><circle cx="1674.55" cy="670.55" r="2.1"/><circle cx="1675.2" cy="674.55" r="2.1"/><circle cx="1674.55" cy="679.05" r="2.1"/><circle cx="1675.2" cy="683.05" r="2.1"/><circle cx="1674.55" cy="687.55" r="2.1"/><circle cx="1675.2" cy="691.55" r="2.1"/><circle cx="1674.55" cy="696.05" r="2.1"/><circle cx="1675.2" cy="700.05" r="2.1"/><circle cx="1674.55" cy="704.55" r="2.1"/><circle cx="1675.2" cy="708.55" r="2.1"/><circle cx="1674.55" cy="713.05" r="2.1"/><circle cx="1675.2" cy="717.05" r="2.1"/><circle cx="1674.55" cy="721.55" r="2.1"/><circle cx="1675.2" cy="725.55" r="2.1"/><circle cx="1674.55" cy="730.05" r="2.1"/><circle cx="1675.2" cy="734.05" r="2.1"/><circle cx="1674.55" cy="738.55" r="2.1"/><circle cx="1675.2" cy="742.55" r="2.1"/><circle cx="1674.55" cy="747.05" r="2.1"/><circle cx="1675.2" cy="751.05" r="2.1"/><circle cx="1674.55" cy="755.55" r="2.1"/><circle cx="1675.2" cy="759.55" r="2.1"/><circle cx="1685.75" cy="479.75" r="2.1"/><circle cx="1686.4" cy="483.75" r="2.1"/><circle cx="1685.75" cy="488.25" r="2.1"/><circle cx="1686.4" cy="492.25" r="2.1"/><circle cx="1685.75" cy="496.75" r="2.1"/><circle cx="1686.4" cy="500.75" r="2.1"/><circle cx="1685.75" cy="505.25" r="2.1"/><circle cx="1686.4" cy="509.25" r="2.1"/><circle cx="1685.75" cy="513.75" r="2.1"/><circle cx="1686.4" cy="517.75" r="2.1"/><circle cx="1685.75" cy="522.25" r="2.1"/><circle cx="1686.4" cy="526.25" r="2.1"/><circle cx="1685.75" cy="530.75" r="2.1"/><circle cx="1686.4" cy="534.75" r="2.1"/><circle cx="1685.75" cy="539.25" r="2.1"/><circle cx="1686.4" cy="543.25" r="2.1"/><circle cx="1685.75" cy="547.75" r="2.1"/><circle cx="1686.4" cy="551.75" r="2.1"/><circle cx="1685.75" cy="556.25" r="2.1"/><circle cx="1686.4" cy="560.25" r="2.1"/><circle cx="1685.75" cy="564.75" r="2.1"/><circle cx="1686.4" cy="568.75" r="2.1"/><circle cx="1685.75" cy="573.25" r="2.1"/><circle cx="1686.4" cy="577.25" r="2.1"/><circle cx="1685.75" cy="581.75" r="2.1"/><circle cx="1686.4" cy="585.75" r="2.1"/><circle cx="1685.75" cy="590.25" r="2.1"/><circle cx="1686.4" cy="594.25" r="2.1"/><circle cx="1685.75" cy="598.75" r="2.1"/><circle cx="1686.4" cy="602.75" r="2.1"/><circle cx="1685.75" cy="607.25" r="2.1"/><circle cx="1686.4" cy="611.25" r="2.1"/><circle cx="1685.75" cy="615.75" r="2.1"/><circle cx="1686.4" cy="619.75" r="2.1"/><circle cx="1685.75" cy="624.25" r="2.1"/><circle cx="1686.4" cy="628.25" r="2.1"/><circle cx="1685.75" cy="632.75" r="2.1"/><circle cx="1686.4" cy="636.75" r="2.1"/><circle cx="1685.75" cy="641.25" r="2.1"/><circle cx="1686.4" cy="645.25" r="2.1"/><circle cx="1685.75" cy="649.75" r="2.1"/><circle cx="1686.4" cy="653.75" r="2.1"/><circle cx="1685.75" cy="658.25" r="2.1"/><circle cx="1686.4" cy="662.25" r="2.1"/><circle cx="1685.75" cy="666.75" r="2.1"/><circle cx="1686.4" cy="670.75" r="2.1"/><circle cx="1685.75" cy="675.25" r="2.1"/><circle cx="1686.4" cy="679.25" r="2.1"/><circle cx="1685.75" cy="683.75" r="2.1"/><circle cx="1686.4" cy="687.75" r="2.1"/><circle cx="1685.75" cy="692.25" r="2.1"/><circle cx="1686.4" cy="696.25" r="2.1"/><circle cx="1685.75" cy="700.75" r="2.1"/><circle cx="1686.4" cy="704.75" r="2.1"/><circle cx="1685.75" cy="709.25" r="2.1"/><circle cx="1686.4" cy="713.25" r="2.1"/><circle cx="1685.75" cy="717.75" r="2.1"/><circle cx="1686.4" cy="721.75" r="2.1"/><circle cx="1685.75" cy="726.25" r="2.1"/><circle cx="1686.4" cy="730.25" r="2.1"/><circle cx="1685.75" cy="734.75" r="2.1"/><circle cx="1686.4" cy="738.75" r="2.1"/><circle cx="1697.15" cy="427.25" r="2.1"/><circle cx="1697.8" cy="431.25" r="2.1"/><circle cx="1697.15" cy="435.75" r="2.1"/><circle cx="1697.8" cy="439.75" r="2.1"/><circle cx="1697.15" cy="444.25" r="2.1"/><circle cx="1697.8" cy="448.25" r="2.1"/><circle cx="1697.15" cy="452.75" r="2.1"/><circle cx="1697.8" cy="456.75" r="2.1"/><circle cx="1697.15" cy="461.25" r="2.1"/><circle cx="1697.8" cy="465.25" r="2.1"/><circle cx="1697.15" cy="469.75" r="2.1"/><circle cx="1697.8" cy="473.75" r="2.1"/><circle cx="1697.15" cy="478.25" r="2.1"/><circle cx="1697.8" cy="482.25" r="2.1"/><circle cx="1697.15" cy="486.75" r="2.1"/><circle cx="1697.8" cy="490.75" r="2.1"/><circle cx="1697.15" cy="495.25" r="2.1"/><circle cx="1697.8" cy="499.25" r="2.1"/><circle cx="1697.15" cy="503.75" r="2.1"/><circle cx="1697.8" cy="507.75" r="2.1"/><circle cx="1697.15" cy="512.25" r="2.1"/><circle cx="1697.8" cy="516.25" r="2.1"/><circle cx="1697.15" cy="520.75" r="2.1"/><circle cx="1697.8" cy="524.75" r="2.1"/><circle cx="1697.15" cy="529.25" r="2.1"/><circle cx="1697.8" cy="533.25" r="2.1"/><circle cx="1697.15" cy="537.75" r="2.1"/><circle cx="1697.8" cy="541.75" r="2.1"/><circle cx="1697.15" cy="546.25" r="2.1"/><circle cx="1697.8" cy="550.25" r="2.1"/><circle cx="1697.15" cy="554.75" r="2.1"/><circle cx="1697.8" cy="558.75" r="2.1"/><circle cx="1697.15" cy="563.25" r="2.1"/><circle cx="1697.8" cy="567.25" r="2.1"/><circle cx="1697.15" cy="571.75" r="2.1"/><circle cx="1697.8" cy="575.75" r="2.1"/><circle cx="1697.15" cy="580.25" r="2.1"/><circle cx="1697.8" cy="584.25" r="2.1"/><circle cx="1697.15" cy="588.75" r="2.1"/><circle cx="1697.8" cy="592.75" r="2.1"/><circle cx="1697.15" cy="597.25" r="2.1"/><circle cx="1697.8" cy="601.25" r="2.1"/><circle cx="1697.15" cy="605.75" r="2.1"/><circle cx="1697.8" cy="609.75" r="2.1"/><circle cx="1697.15" cy="614.25" r="2.1"/><circle cx="1697.8" cy="618.25" r="2.1"/><circle cx="1697.15" cy="622.75" r="2.1"/><circle cx="1697.8" cy="626.75" r="2.1"/><circle cx="1697.15" cy="631.25" r="2.1"/><circle cx="1697.8" cy="635.25" r="2.1"/><circle cx="1697.15" cy="639.75" r="2.1"/><circle cx="1697.8" cy="643.75" r="2.1"/><circle cx="1697.15" cy="648.25" r="2.1"/><circle cx="1697.8" cy="652.25" r="2.1"/><circle cx="1697.15" cy="656.75" r="2.1"/><circle cx="1697.8" cy="660.75" r="2.1"/><circle cx="1697.15" cy="665.25" r="2.1"/><circle cx="1697.8" cy="669.25" r="2.1"/><circle cx="1697.15" cy="673.75" r="2.1"/><circle cx="1697.8" cy="677.75" r="2.1"/><circle cx="1697.15" cy="682.25" r="2.1"/><circle cx="1697.8" cy="686.25" r="2.1"/><circle cx="1697.15" cy="690.75" r="2.1"/><circle cx="1697.8" cy="694.75" r="2.1"/><circle cx="1697.15" cy="699.25" r="2.1"/><circle cx="1697.8" cy="703.25" r="2.1"/><circle cx="1697.15" cy="707.75" r="2.1"/><circle cx="1697.8" cy="711.75" r="2.1"/><circle cx="1708.45" cy="352.25" r="2.1"/><circle cx="1709.1" cy="356.25" r="2.1"/><circle cx="1708.45" cy="360.75" r="2.1"/><circle cx="1709.1" cy="364.75" r="2.1"/><circle cx="1708.45" cy="369.25" r="2.1"/><circle cx="1709.1" cy="373.25" r="2.1"/><circle cx="1708.45" cy="377.75" r="2.1"/><circle cx="1709.1" cy="381.75" r="2.1"/><circle cx="1708.45" cy="386.25" r="2.1"/><circle cx="1709.1" cy="390.25" r="2.1"/><circle cx="1708.45" cy="394.75" r="2.1"/><circle cx="1709.1" cy="398.75" r="2.1"/><circle cx="1708.45" cy="403.25" r="2.1"/><circle cx="1709.1" cy="407.25" r="2.1"/><circle cx="1708.45" cy="411.75" r="2.1"/><circle cx="1709.1" cy="415.75" r="2.1"/><circle cx="1708.45" cy="420.25" r="2.1"/><circle cx="1709.1" cy="424.25" r="2.1"/><circle cx="1708.45" cy="428.75" r="2.1"/><circle cx="1709.1" cy="432.75" r="2.1"/><circle cx="1708.45" cy="437.25" r="2.1"/><circle cx="1709.1" cy="441.25" r="2.1"/><circle cx="1708.45" cy="445.75" r="2.1"/><circle cx="1709.1" cy="449.75" r="2.1"/><circle cx="1708.45" cy="454.25" r="2.1"/><circle cx="1709.1" cy="458.25" r="2.1"/><circle cx="1708.45" cy="462.75" r="2.1"/><circle cx="1709.1" cy="466.75" r="2.1"/><circle cx="1708.45" cy="471.25" r="2.1"/><circle cx="1709.1" cy="475.25" r="2.1"/><circle cx="1708.45" cy="479.75" r="2.1"/><circle cx="1709.1" cy="483.75" r="2.1"/><circle cx="1708.45" cy="488.25" r="2.1"/><circle cx="1709.1" cy="492.25" r="2.1"/><circle cx="1708.45" cy="496.75" r="2.1"/><circle cx="1709.1" cy="500.75" r="2.1"/><circle cx="1708.45" cy="505.25" r="2.1"/><circle cx="1709.1" cy="509.25" r="2.1"/><circle cx="1708.45" cy="513.75" r="2.1"/><circle cx="1709.1" cy="517.75" r="2.1"/><circle cx="1708.45" cy="522.25" r="2.1"/><circle cx="1709.1" cy="526.25" r="2.1"/><circle cx="1708.45" cy="530.75" r="2.1"/><circle cx="1709.1" cy="534.75" r="2.1"/><circle cx="1708.45" cy="539.25" r="2.1"/><circle cx="1709.1" cy="543.25" r="2.1"/><circle cx="1708.45" cy="547.75" r="2.1"/><circle cx="1709.1" cy="551.75" r="2.1"/><circle cx="1708.45" cy="556.25" r="2.1"/><circle cx="1709.1" cy="560.25" r="2.1"/><circle cx="1708.45" cy="564.75" r="2.1"/><circle cx="1709.1" cy="568.75" r="2.1"/><circle cx="1708.45" cy="573.25" r="2.1"/><circle cx="1709.1" cy="577.25" r="2.1"/><circle cx="1708.45" cy="581.75" r="2.1"/><circle cx="1709.1" cy="585.75" r="2.1"/><circle cx="1708.45" cy="590.25" r="2.1"/><circle cx="1709.1" cy="594.25" r="2.1"/><circle cx="1708.45" cy="598.75" r="2.1"/><circle cx="1709.1" cy="602.75" r="2.1"/><circle cx="1708.45" cy="607.25" r="2.1"/><circle cx="1709.1" cy="611.25" r="2.1"/><circle cx="1708.45" cy="615.75" r="2.1"/><circle cx="1709.1" cy="619.75" r="2.1"/><circle cx="1708.45" cy="624.25" r="2.1"/><circle cx="1709.1" cy="628.25" r="2.1"/><circle cx="1708.45" cy="632.75" r="2.1"/><circle cx="1709.1" cy="636.75" r="2.1"/><circle cx="1708.45" cy="641.25" r="2.1"/><circle cx="1709.1" cy="645.25" r="2.1"/><circle cx="1708.45" cy="649.75" r="2.1"/><circle cx="1709.1" cy="653.75" r="2.1"/><circle cx="1708.45" cy="658.25" r="2.1"/><circle cx="1709.1" cy="662.25" r="2.1"/><circle cx="1708.45" cy="666.75" r="2.1"/><circle cx="1709.1" cy="670.75" r="2.1"/><circle cx="1708.45" cy="675.25" r="2.1"/><circle cx="1709.1" cy="679.25" r="2.1"/><circle cx="1708.45" cy="683.75" r="2.1"/><circle cx="1709.1" cy="687.75" r="2.1"/><circle cx="1719.35" cy="243.25" r="2.1"/><circle cx="1720" cy="247.25" r="2.1"/><circle cx="1719.35" cy="251.75" r="2.1"/><circle cx="1720" cy="255.75" r="2.1"/><circle cx="1719.35" cy="260.25" r="2.1"/><circle cx="1720" cy="264.25" r="2.1"/><circle cx="1719.35" cy="268.75" r="2.1"/><circle cx="1720" cy="272.75" r="2.1"/><circle cx="1719.35" cy="277.25" r="2.1"/><circle cx="1720" cy="281.25" r="2.1"/><circle cx="1719.35" cy="285.75" r="2.1"/><circle cx="1720" cy="289.75" r="2.1"/><circle cx="1719.35" cy="294.25" r="2.1"/><circle cx="1720" cy="298.25" r="2.1"/><circle cx="1719.35" cy="302.75" r="2.1"/><circle cx="1720" cy="306.75" r="2.1"/><circle cx="1719.35" cy="311.25" r="2.1"/><circle cx="1720" cy="315.25" r="2.1"/><circle cx="1719.35" cy="319.75" r="2.1"/><circle cx="1720" cy="323.75" r="2.1"/><circle cx="1719.35" cy="328.25" r="2.1"/><circle cx="1720" cy="332.25" r="2.1"/><circle cx="1719.35" cy="336.75" r="2.1"/><circle cx="1720" cy="340.75" r="2.1"/><circle cx="1719.35" cy="345.25" r="2.1"/><circle cx="1720" cy="349.25" r="2.1"/><circle cx="1719.35" cy="353.75" r="2.1"/><circle cx="1720" cy="357.75" r="2.1"/><circle cx="1719.35" cy="362.25" r="2.1"/><circle cx="1720" cy="366.25" r="2.1"/><circle cx="1719.35" cy="370.75" r="2.1"/><circle cx="1720" cy="374.75" r="2.1"/><circle cx="1719.35" cy="379.25" r="2.1"/><circle cx="1720" cy="383.25" r="2.1"/><circle cx="1719.35" cy="387.75" r="2.1"/><circle cx="1720" cy="391.75" r="2.1"/><circle cx="1719.35" cy="396.25" r="2.1"/><circle cx="1720" cy="400.25" r="2.1"/><circle cx="1719.35" cy="404.75" r="2.1"/><circle cx="1720" cy="408.75" r="2.1"/><circle cx="1719.35" cy="413.25" r="2.1"/><circle cx="1720" cy="417.25" r="2.1"/><circle cx="1719.35" cy="421.75" r="2.1"/><circle cx="1720" cy="425.75" r="2.1"/><circle cx="1719.35" cy="430.25" r="2.1"/><circle cx="1720" cy="434.25" r="2.1"/><circle cx="1719.35" cy="438.75" r="2.1"/><circle cx="1720" cy="442.75" r="2.1"/><circle cx="1719.35" cy="447.25" r="2.1"/><circle cx="1720" cy="451.25" r="2.1"/><circle cx="1719.35" cy="455.75" r="2.1"/><circle cx="1720" cy="459.75" r="2.1"/><circle cx="1719.35" cy="464.25" r="2.1"/><circle cx="1720" cy="468.25" r="2.1"/><circle cx="1719.35" cy="472.75" r="2.1"/><circle cx="1720" cy="476.75" r="2.1"/><circle cx="1719.35" cy="481.25" r="2.1"/><circle cx="1720" cy="485.25" r="2.1"/><circle cx="1719.35" cy="489.75" r="2.1"/><circle cx="1720" cy="493.75" r="2.1"/><circle cx="1719.35" cy="498.25" r="2.1"/><circle cx="1720" cy="502.25" r="2.1"/><circle cx="1719.35" cy="506.75" r="2.1"/><circle cx="1720" cy="510.75" r="2.1"/><circle cx="1719.35" cy="515.25" r="2.1"/><circle cx="1720" cy="519.25" r="2.1"/><circle cx="1719.35" cy="523.75" r="2.1"/><circle cx="1720" cy="527.75" r="2.1"/><circle cx="1719.35" cy="532.25" r="2.1"/><circle cx="1720" cy="536.25" r="2.1"/><circle cx="1719.35" cy="540.75" r="2.1"/><circle cx="1720" cy="544.75" r="2.1"/><circle cx="1719.35" cy="549.25" r="2.1"/><circle cx="1720" cy="553.25" r="2.1"/><circle cx="1719.35" cy="557.75" r="2.1"/><circle cx="1720" cy="561.75" r="2.1"/><circle cx="1719.35" cy="566.25" r="2.1"/><circle cx="1720" cy="570.25" r="2.1"/><circle cx="1719.35" cy="574.75" r="2.1"/><circle cx="1720" cy="578.75" r="2.1"/><circle cx="1719.35" cy="583.25" r="2.1"/><circle cx="1720" cy="587.25" r="2.1"/><circle cx="1719.35" cy="591.75" r="2.1"/><circle cx="1720" cy="595.75" r="2.1"/><circle cx="1719.35" cy="600.25" r="2.1"/><circle cx="1720" cy="604.25" r="2.1"/><circle cx="1719.35" cy="608.75" r="2.1"/><circle cx="1720" cy="612.75" r="2.1"/><circle cx="1719.35" cy="617.25" r="2.1"/><circle cx="1720" cy="621.25" r="2.1"/><circle cx="1719.35" cy="625.75" r="2.1"/><circle cx="1720" cy="629.75" r="2.1"/><circle cx="1719.35" cy="634.25" r="2.1"/><circle cx="1720" cy="638.25" r="2.1"/><circle cx="1719.35" cy="642.75" r="2.1"/><circle cx="1720" cy="646.75" r="2.1"/><circle cx="1730.6" cy="240" r="2.1"/><circle cx="1730.6" cy="249" r="2.1"/><circle cx="1730.6" cy="258" r="2.1"/><circle cx="1730.6" cy="267" r="2.1"/><circle cx="1730.6" cy="276" r="2.1"/><circle cx="1730.6" cy="285" r="2.1"/><circle cx="1730.6" cy="294" r="2.1"/><circle cx="1730.6" cy="303" r="2.1"/><circle cx="1730.6" cy="312" r="2.1"/><circle cx="1730.6" cy="321" r="2.1"/><circle cx="1730.6" cy="330" r="2.1"/><circle cx="1730.6" cy="339" r="2.1"/><circle cx="1730.6" cy="348" r="2.1"/><circle cx="1730.6" cy="357" r="2.1"/><circle cx="1730.6" cy="366" r="2.1"/><circle cx="1730.6" cy="375" r="2.1"/><circle cx="1730.6" cy="384" r="2.1"/><circle cx="1730.6" cy="393" r="2.1"/><circle cx="1730.6" cy="402" r="2.1"/><circle cx="1730.6" cy="411" r="2.1"/><circle cx="1730.6" cy="420" r="2.1"/><circle cx="1730.6" cy="429" r="2.1"/><circle cx="1730.6" cy="438" r="2.1"/><circle cx="1730.6" cy="447" r="2.1"/><circle cx="1730.6" cy="456" r="2.1"/><circle cx="1730.6" cy="465" r="2.1"/><circle cx="1730.6" cy="474" r="2.1"/><circle cx="1730.6" cy="483" r="2.1"/><circle cx="1730.6" cy="492" r="2.1"/><circle cx="1730.6" cy="501" r="2.1"/><circle cx="1730.6" cy="510" r="2.1"/><circle cx="1730.6" cy="519" r="2.1"/><circle cx="1730.6" cy="528" r="2.1"/><circle cx="1730.6" cy="537" r="2.1"/><circle cx="1730.6" cy="546" r="2.1"/><circle cx="1730.6" cy="555" r="2.1"/><circle cx="1730.6" cy="564" r="2.1"/><circle cx="1730.6" cy="573" r="2.1"/><circle cx="1730.6" cy="582" r="2.1"/><circle cx="1730.6" cy="591" r="2.1"/><circle cx="1730.6" cy="600" r="2.1"/><circle cx="1730.6" cy="609" r="2.1"/><circle cx="1730.6" cy="618" r="2.1"/><circle cx="1730.6" cy="627" r="2.1"/><circle cx="1730.6" cy="636" r="2.1"/><circle cx="1730.6" cy="645" r="2.1"/><circle cx="1730.6" cy="654" r="2.1"/><circle cx="1730.6" cy="663" r="2.1"/><circle cx="1730.6" cy="672" r="2.1"/><circle cx="1730.6" cy="681" r="2.1"/></g>
<line x1="1662.1" y1="140" x2="1662.1" y2="1070" stroke="#0000ff" stroke-width="4.17"/>
<line x1="1730.0" y1="140" x2="1730.0" y2="1070" stroke="#0000ff" stroke-width="4.17"/>
<line x1="248" y1="643.0" x2="1802" y2="643.0" stroke="#008000" stroke-width="4.17"/>
<line x1="248" y1="394.8" x2="1802" y2="394.8" stroke="#ffa500" stroke-width="2.08"/>
<line x1="248" y1="541.8" x2="1802" y2="541.8" stroke="#ffa500" stroke-width="2.08"/>
<g fill="#90ee90"><circle cx="1697.4" cy="426" r="4.2"/><circle cx="1697.4" cy="430" r="4.2"/><circle cx="1697.4" cy="434" r="4.2"/><circle cx="1697.4" cy="438" r="4.2"/><circle cx="1697.4" cy="442" r="4.2"/><circle cx="1697.4" cy="446" r="4.2"/><circle cx="1697.4" cy="450" r="4.2"/><circle cx="1697.4" cy="454" r="4.2"/><circle cx="1697.4" cy="458" r="4.2"/><circle cx="1697.4" cy="462" r="4.2"/><circle cx="1697.4" cy="468" r="4.2"/><circle cx="1697.4" cy="475" r="4.2"/><circle cx="1697.4" cy="482" r="4.2"/><circle cx="1697.4" cy="489" r="4.2"/><circle cx="1697.4" cy="496" r="4.2"/><circle cx="1697.4" cy="503" r="4.2"/><circle cx="1697.4" cy="510" r="4.2"/><circle cx="1697.4" cy="517" r="4.2"/><circle cx="1697.4" cy="524" r="4.2"/><circle cx="1697.4" cy="531" r="4.2"/><circle cx="1697.4" cy="538" r="4.2"/><circle cx="1697.4" cy="545" r="4.2"/><circle cx="1697.4" cy="552" r="4.2"/><circle cx="1697.4" cy="559" r="4.2"/><circle cx="1697.4" cy="566" r="4.2"/><circle cx="1697.4" cy="573.5" r="4.2"/><circle cx="1697.4" cy="589.3" r="4.2"/><circle cx="1697.4" cy="602.7" r="4.2"/><circle cx="1697.4" cy="616.7" r="4.2"/><circle cx="1697.4" cy="630.6" r="4.2"/><circle cx="1697.4" cy="647" r="4.2"/><circle cx="1697.4" cy="662.75" r="4.2"/><circle cx="1697.4" cy="679.25" r="4.2"/><circle cx="1697.4" cy="695" r="4.2"/><circle cx="1697.4" cy="710" r="4.2"/><circle cx="1697.4" cy="725" r="4.2"/><circle cx="1697.4" cy="739" r="4.2"/><circle cx="1697.4" cy="752.75" r="4.2"/><circle cx="1697.4" cy="764.75" r="4.2"/><circle cx="1697.4" cy="776" r="4.2"/></g>
<g fill="#ffff00" fill-opacity="0.2" stroke="#ffff00" stroke-opacity="0.2" stroke-width="1.6"><circle cx="1662.5" cy="622" r="7.2"/><circle cx="1662.5" cy="628" r="7.2"/><circle cx="1662.5" cy="634" r="7.2"/><circle cx="1662.5" cy="640" r="7.2"/><circle cx="1675" cy="610" r="7.2"/><circle cx="1675" cy="616" r="7.2"/><circle cx="1675" cy="622" r="7.2"/><circle cx="1675" cy="628" r="7.2"/><circle cx="1675" cy="634" r="7.2"/><circle cx="1675" cy="640" r="7.2"/><circle cx="1686.2" cy="577" r="7.2"/><circle cx="1686.2" cy="583" r="7.2"/><circle cx="1686.2" cy="589" r="7.2"/><circle cx="1686.2" cy="595" r="7.2"/><circle cx="1686.2" cy="601" r="7.2"/><circle cx="1686.2" cy="607" r="7.2"/><circle cx="1686.2" cy="613" r="7.2"/><circle cx="1686.2" cy="619" r="7.2"/><circle cx="1686.2" cy="625" r="7.2"/><circle cx="1686.2" cy="631" r="7.2"/><circle cx="1686.2" cy="637" r="7.2"/><circle cx="1697.6" cy="547" r="7.2"/><circle cx="1697.6" cy="553" r="7.2"/><circle cx="1697.6" cy="559" r="7.2"/><circle cx="1697.6" cy="565" r="7.2"/><circle cx="1697.6" cy="571" r="7.2"/><circle cx="1697.6" cy="577" r="7.2"/><circle cx="1697.6" cy="583" r="7.2"/><circle cx="1697.6" cy="589" r="7.2"/><circle cx="1697.6" cy="595" r="7.2"/><circle cx="1697.6" cy="601" r="7.2"/><circle cx="1697.6" cy="607" r="7.2"/><circle cx="1697.6" cy="613" r="7.2"/><circle cx="1697.6" cy="619" r="7.2"/><circle cx="1697.6" cy="625" r="7.2"/><circle cx="1697.6" cy="631" r="7.2"/><circle cx="1697.6" cy="637" r="7.2"/><circle cx="1708.8" cy="498" r="7.2"/><circle cx="1708.8" cy="504" r="7.2"/><circle cx="1708.8" cy="510" r="7.2"/><circle cx="1708.8" cy="516" r="7.2"/><circle cx="1708.8" cy="522" r="7.2"/><circle cx="1708.8" cy="528" r="7.2"/><circle cx="1708.8" cy="534" r="7.2"/><circle cx="1708.8" cy="540" r="7.2"/><circle cx="1708.8" cy="546" r="7.2"/><circle cx="1708.8" cy="552" r="7.2"/><circle cx="1708.8" cy="558" r="7.2"/><circle cx="1708.8" cy="564" r="7.2"/><circle cx="1708.8" cy="570" r="7.2"/><circle cx="1708.8" cy="576" r="7.2"/><circle cx="1708.8" cy="582" r="7.2"/><circle cx="1708.8" cy="588" r="7.2"/><circle cx="1708.8" cy="594" r="7.2"/><circle cx="1708.8" cy="600" r="7.2"/><circle cx="1708.8" cy="606" r="7.2"/><circle cx="1708.8" cy="612" r="7.2"/><circle cx="1708.8" cy="618" r="7.2"/><circle cx="1708.8" cy="624" r="7.2"/><circle cx="1708.8" cy="630" r="7.2"/><circle cx="1708.8" cy="636" r="7.2"/><circle cx="1719.5" cy="412" r="7.2"/><circle cx="1719.5" cy="417" r="7.2"/><circle cx="1719.5" cy="422" r="7.2"/><circle cx="1719.5" cy="427" r="7.2"/><circle cx="1719.5" cy="432" r="7.2"/><circle cx="1719.5" cy="437" r="7.2"/><circle cx="1719.5" cy="442" r="7.2"/><circle cx="1719.5" cy="447" r="7.2"/><circle cx="1719.5" cy="452" r="7.2"/><circle cx="1719.5" cy="457" r="7.2"/><circle cx="1719.5" cy="462" r="7.2"/><circle cx="1719.5" cy="467" r="7.2"/><circle cx="1719.5" cy="472" r="7.2"/><circle cx="1719.5" cy="477" r="7.2"/><circle cx="1719.5" cy="482" r="7.2"/><circle cx="1719.5" cy="487" r="7.2"/><circle cx="1719.5" cy="492" r="7.2"/><circle cx="1719.5" cy="497" r="7.2"/><circle cx="1719.5" cy="502" r="7.2"/><circle cx="1719.5" cy="507" r="7.2"/><circle cx="1719.5" cy="512" r="7.2"/><circle cx="1719.5" cy="517" r="7.2"/><circle cx="1719.5" cy="522" r="7.2"/><circle cx="1719.5" cy="527" r="7.2"/><circle cx="1719.5" cy="532" r="7.2"/><circle cx="1719.5" cy="537" r="7.2"/><circle cx="1719.5" cy="542" r="7.2"/><circle cx="1719.5" cy="547" r="7.2"/><circle cx="1719.5" cy="552" r="7.2"/><circle cx="1719.5" cy="557" r="7.2"/><circle cx="1719.5" cy="562" r="7.2"/><circle cx="1719.5" cy="567" r="7.2"/><circle cx="1719.5" cy="572" r="7.2"/><circle cx="1719.5" cy="577" r="7.2"/><circle cx="1719.5" cy="582" r="7.2"/><circle cx="1719.5" cy="587" r="7.2"/><circle cx="1730" cy="407" r="7.2"/><circle cx="1730" cy="424" r="7.2"/><circle cx="1730" cy="446" r="7.2"/><circle cx="1730" cy="470" r="7.2"/><circle cx="1730" cy="493.5" r="7.2"/><circle cx="1730" cy="516" r="7.2"/><circle cx="1730" cy="536" r="7.2"/><circle cx="1730" cy="546" r="7.2"/><circle cx="1730" cy="556" r="7.2"/><circle cx="1730" cy="566" r="7.2"/><circle cx="1730" cy="576" r="7.2"/><circle cx="1730" cy="586" r="7.2"/><circle cx="1730" cy="596" r="7.2"/><circle cx="1730" cy="606" r="7.2"/><circle cx="1730" cy="616" r="7.2"/><circle cx="1730" cy="626" r="7.2"/><circle cx="1730" cy="636" r="7.2"/></g>
<path d="M1729 535 L1719.5 642.5" stroke="#ffff00" stroke-width="17" stroke-linecap="round"/>
<g class="lab">
<text x="0" y="0" transform="translate(807.45 904.8) rotate(-80)" textLength="33.73" lengthAdjust="spacingAndGlyphs">n=1</text>
<text x="0" y="0" transform="translate(861.55 895.1) rotate(-80)" textLength="33.73" lengthAdjust="spacingAndGlyphs">n=2</text>
<text x="0" y="0" transform="translate(912.75 885.9) rotate(-80)" textLength="33.73" lengthAdjust="spacingAndGlyphs">n=3</text>
<text x="0" y="0" transform="translate(960.35 876.5) rotate(-80)" textLength="33.73" lengthAdjust="spacingAndGlyphs">n=4</text>
<text x="0" y="0" transform="translate(1005.35 866.9) rotate(-80)" textLength="33.73" lengthAdjust="spacingAndGlyphs">n=5</text>
<text x="0" y="0" transform="translate(1047.65 858.6) rotate(-80)" textLength="33.73" lengthAdjust="spacingAndGlyphs">n=6</text>
<text x="0" y="0" transform="translate(1087.15 850.3) rotate(-80)" textLength="33.73" lengthAdjust="spacingAndGlyphs">n=7</text>
<text x="0" y="0" transform="translate(1124.25 841.9) rotate(-80)" textLength="33.73" lengthAdjust="spacingAndGlyphs">n=8</text>
<text x="0" y="0" transform="translate(1158.95 833.6) rotate(-80)" textLength="33.73" lengthAdjust="spacingAndGlyphs">n=9</text>
<text x="0" y="0" transform="translate(1192.15 824.3) rotate(-80)" textLength="43.91" lengthAdjust="spacingAndGlyphs">n=10</text>
<text x="0" y="0" transform="translate(1253.05 808.8) rotate(-80)" textLength="43.91" lengthAdjust="spacingAndGlyphs">n=11</text>
<text x="0" y="0" transform="translate(1280.95 800.4) rotate(-80)" textLength="43.91" lengthAdjust="spacingAndGlyphs">n=12</text>
<text x="0" y="0" transform="translate(1308.15 792.7) rotate(-80)" textLength="43.91" lengthAdjust="spacingAndGlyphs">n=13</text>
<text x="0" y="0" transform="translate(1333.15 785.2) rotate(-80)" textLength="43.91" lengthAdjust="spacingAndGlyphs">n=14</text>
<text x="0" y="0" transform="translate(1357.35 776.7) rotate(-80)" textLength="43.91" lengthAdjust="spacingAndGlyphs">n=15</text>
<text x="0" y="0" transform="translate(1380.75 768.5) rotate(-80)" textLength="43.91" lengthAdjust="spacingAndGlyphs">n=16</text>
<text x="0" y="0" transform="translate(1403.15 760.7) rotate(-80)" textLength="43.91" lengthAdjust="spacingAndGlyphs">n=17</text>
<text x="0" y="0" transform="translate(1424.25 751.9) rotate(-80)" textLength="43.91" lengthAdjust="spacingAndGlyphs">n=18</text>
<text x="0" y="0" transform="translate(1444.45 744.3) rotate(-80)" textLength="43.91" lengthAdjust="spacingAndGlyphs">n=19</text>
<text x="0" y="0" transform="translate(1464.05 735.6) rotate(-80)" textLength="43.91" lengthAdjust="spacingAndGlyphs">n=20</text>
<text x="0" y="0" transform="translate(1482.15 727.4) rotate(-80)" textLength="43.91" lengthAdjust="spacingAndGlyphs">n=21</text>
<text x="0" y="0" transform="translate(1500.15 717.5) rotate(-80)" textLength="43.91" lengthAdjust="spacingAndGlyphs">n=22</text>
<text x="0" y="0" transform="translate(1517.55 709.3) rotate(-80)" textLength="43.91" lengthAdjust="spacingAndGlyphs">n=23</text>
<text x="0" y="0" transform="translate(1534.05 699.4) rotate(-80)" textLength="43.91" lengthAdjust="spacingAndGlyphs">n=24</text>
<text x="0" y="0" transform="translate(1550.25 689.2) rotate(-80)" textLength="43.91" lengthAdjust="spacingAndGlyphs">n=25</text>
<text x="0" y="0" transform="translate(1565.65 679.3) rotate(-80)" textLength="43.91" lengthAdjust="spacingAndGlyphs">n=26</text>
<text x="0" y="0" transform="translate(1595.55 656.6) rotate(-80)" textLength="43.91" lengthAdjust="spacingAndGlyphs">n=27</text>
<text x="0" y="0" transform="translate(1609.45 642.3) rotate(-80)" textLength="43.91" lengthAdjust="spacingAndGlyphs">n=28</text>
<text x="0" y="0" transform="translate(1623.45 630.2) rotate(-80)" textLength="43.91" lengthAdjust="spacingAndGlyphs">n=29</text>
<text x="0" y="0" transform="translate(1636.75 616) rotate(-80)" textLength="43.91" lengthAdjust="spacingAndGlyphs">n=30</text>
<text x="0" y="0" transform="translate(1649.65 597.2) rotate(-80)" textLength="43.91" lengthAdjust="spacingAndGlyphs">n=31</text>
<text x="0" y="0" transform="translate(1662.95 575.5) rotate(-80)" textLength="43.91" lengthAdjust="spacingAndGlyphs">n=32</text>
<text x="0" y="0" transform="translate(1674.25 547.8) rotate(-80)" textLength="43.91" lengthAdjust="spacingAndGlyphs">n=33</text>
<text x="0" y="0" transform="translate(1686.75 520.1) rotate(-80)" textLength="43.91" lengthAdjust="spacingAndGlyphs">n=34</text>
<text x="0" y="0" transform="translate(1697.95 482.3) rotate(-80)" textLength="43.91" lengthAdjust="spacingAndGlyphs">n=35</text>
<text x="0" y="0" transform="translate(1709.35 429.8) rotate(-80)" textLength="43.91" lengthAdjust="spacingAndGlyphs">n=36</text>
<text x="0" y="0" transform="translate(1720.65 354.8) rotate(-80)" textLength="43.91" lengthAdjust="spacingAndGlyphs">n=37</text>
<text x="0" y="0" transform="translate(1731.55 245.8) rotate(-80)" textLength="43.91" lengthAdjust="spacingAndGlyphs">n=38</text>
</g>
</g>
<g class="lg">
<rect x="264" y="157.5" width="533.5" height="290.3" rx="5" ry="5" fill="#fff" fill-opacity="0.8" stroke="#cccccc" stroke-width="1.1"/>
<line x1="272.3" y1="177.2" x2="324.3" y2="177.2" stroke="#000" stroke-width="2.1"/>
<circle cx="298.3" cy="177.2" r="2.3" fill="#000"/>
<line x1="272.3" y1="214.1" x2="324.3" y2="214.1" stroke="#0000ff" stroke-width="4.17"/>
<line x1="272.3" y1="251.0" x2="324.3" y2="251.0" stroke="#008000" stroke-width="4.17"/>
<line x1="272.3" y1="286.9" x2="324.3" y2="286.9" stroke="#ffa500" stroke-width="2.08"/>
<circle cx="298.3" cy="324.3" r="4.2" fill="#90ee90"/>
<line x1="272.3" y1="359.8" x2="324.3" y2="359.8" stroke="#ff0000" stroke-width="2.1"/>
<polygon points="298.3,339.3 303.1,354.09 318.65,354.09 306.07,363.23 310.88,378.01 298.3,368.87 285.72,378.01 290.53,363.23 277.95,354.09 293.5,354.09" fill="#ff0000"/>
<circle cx="298.3" cy="413.3" r="7.5" fill="#ffff00" fill-opacity="0.27"/>
<text x="341.7" y="186.25" textLength="291.98" lengthAdjust="spacingAndGlyphs">m2.90_z0.0040_y0.257</text>
<text x="341.7" y="223" textLength="406.89" lengthAdjust="spacingAndGlyphs">peak detector horizontal bounds</text>
<text x="341.7" y="260.1" textLength="444.58" lengthAdjust="spacingAndGlyphs">min. P consistent with observations</text>
<text x="341.7" y="295.9" textLength="407.72" lengthAdjust="spacingAndGlyphs">max. P must fall within this span</text>
<text x="341.7" y="332.25" textLength="404.62" lengthAdjust="spacingAndGlyphs">pulse region fit with cubic spline</text>
<text x="341.7" y="368.25" textLength="205.82" lengthAdjust="spacingAndGlyphs">pulses identified</text>
<text x="341.7" y="404.25" textLength="278.54" lengthAdjust="spacingAndGlyphs">intersection w/ P,L,T,R</text>
<text x="341.7" y="432" textLength="189.72" lengthAdjust="spacingAndGlyphs">loosely defined</text>
</g>
<rect x="250.5" y="144.5" width="1550" height="924" fill="none" stroke="#000" stroke-width="1"/>
<line x1="250.5" y1="955.9" x2="233.3" y2="955.9" class="tk"/>
<line x1="250.5" y1="832.75" x2="233.3" y2="832.75" class="tk"/>
<line x1="250.5" y1="709.6" x2="233.3" y2="709.6" class="tk"/>
<line x1="250.5" y1="586.45" x2="233.3" y2="586.45" class="tk"/>
<line x1="250.5" y1="463.3" x2="233.3" y2="463.3" class="tk"/>
<line x1="250.5" y1="340.15" x2="233.3" y2="340.15" class="tk"/>
<line x1="250.5" y1="217" x2="233.3" y2="217" class="tk"/>
<line x1="250.5" y1="1054.42" x2="239.3" y2="1054.42" class="tk"/>
<line x1="250.5" y1="1029.79" x2="239.3" y2="1029.79" class="tk"/>
<line x1="250.5" y1="1005.16" x2="239.3" y2="1005.16" class="tk"/>
<line x1="250.5" y1="980.53" x2="239.3" y2="980.53" class="tk"/>
<line x1="250.5" y1="931.27" x2="239.3" y2="931.27" class="tk"/>
<line x1="250.5" y1="906.64" x2="239.3" y2="906.64" class="tk"/>
<line x1="250.5" y1="882.01" x2="239.3" y2="882.01" class="tk"/>
<line x1="250.5" y1="857.38" x2="239.3" y2="857.38" class="tk"/>
<line x1="250.5" y1="808.12" x2="239.3" y2="808.12" class="tk"/>
<line x1="250.5" y1="783.49" x2="239.3" y2="783.49" class="tk"/>
<line x1="250.5" y1="758.86" x2="239.3" y2="758.86" class="tk"/>
<line x1="250.5" y1="734.23" x2="239.3" y2="734.23" class="tk"/>
<line x1="250.5" y1="684.97" x2="239.3" y2="684.97" class="tk"/>
<line x1="250.5" y1="660.34" x2="239.3" y2="660.34" class="tk"/>
<line x1="250.5" y1="635.71" x2="239.3" y2="635.71" class="tk"/>
<line x1="250.5" y1="611.08" x2="239.3" y2="611.08" class="tk"/>
<line x1="250.5" y1="561.82" x2="239.3" y2="561.82" class="tk"/>
<line x1="250.5" y1="537.19" x2="239.3" y2="537.19" class="tk"/>
<line x1="250.5" y1="512.56" x2="239.3" y2="512.56" class="tk"/>
<line x1="250.5" y1="487.93" x2="239.3" y2="487.93" class="tk"/>
<line x1="250.5" y1="438.67" x2="239.3" y2="438.67" class="tk"/>
<line x1="250.5" y1="414.04" x2="239.3" y2="414.04" class="tk"/>
<line x1="250.5" y1="389.41" x2="239.3" y2="389.41" class="tk"/>
<line x1="250.5" y1="364.78" x2="239.3" y2="364.78" class="tk"/>
<line x1="250.5" y1="315.52" x2="239.3" y2="315.52" class="tk"/>
<line x1="250.5" y1="290.89" x2="239.3" y2="290.89" class="tk"/>
<line x1="250.5" y1="266.26" x2="239.3" y2="266.26" class="tk"/>
<line x1="250.5" y1="241.63" x2="239.3" y2="241.63" class="tk"/>
<line x1="250.5" y1="192.37" x2="239.3" y2="192.37" class="tk"/>
<line x1="250.5" y1="167.74" x2="239.3" y2="167.74" class="tk"/>
<line x1="274.7" y1="1068.2" x2="274.7" y2="1084.9" class="tk"/>
<line x1="473.44" y1="1068.2" x2="473.44" y2="1084.9" class="tk"/>
<line x1="672.18" y1="1068.2" x2="672.18" y2="1084.9" class="tk"/>
<line x1="870.92" y1="1068.2" x2="870.92" y2="1084.9" class="tk"/>
<line x1="1069.66" y1="1068.2" x2="1069.66" y2="1084.9" class="tk"/>
<line x1="1268.4" y1="1068.2" x2="1268.4" y2="1084.9" class="tk"/>
<line x1="1467.14" y1="1068.2" x2="1467.14" y2="1084.9" class="tk"/>
<line x1="1665.88" y1="1068.2" x2="1665.88" y2="1084.9" class="tk"/>
<line x1="314.45" y1="1068.2" x2="314.45" y2="1079" class="tk"/>
<line x1="354.2" y1="1068.2" x2="354.2" y2="1079" class="tk"/>
<line x1="393.94" y1="1068.2" x2="393.94" y2="1079" class="tk"/>
<line x1="433.69" y1="1068.2" x2="433.69" y2="1079" class="tk"/>
<line x1="513.19" y1="1068.2" x2="513.19" y2="1079" class="tk"/>
<line x1="552.94" y1="1068.2" x2="552.94" y2="1079" class="tk"/>
<line x1="592.68" y1="1068.2" x2="592.68" y2="1079" class="tk"/>
<line x1="632.43" y1="1068.2" x2="632.43" y2="1079" class="tk"/>
<line x1="711.93" y1="1068.2" x2="711.93" y2="1079" class="tk"/>
<line x1="751.68" y1="1068.2" x2="751.68" y2="1079" class="tk"/>
<line x1="791.42" y1="1068.2" x2="791.42" y2="1079" class="tk"/>
<line x1="831.17" y1="1068.2" x2="831.17" y2="1079" class="tk"/>
<line x1="910.67" y1="1068.2" x2="910.67" y2="1079" class="tk"/>
<line x1="950.42" y1="1068.2" x2="950.42" y2="1079" class="tk"/>
<line x1="990.16" y1="1068.2" x2="990.16" y2="1079" class="tk"/>
<line x1="1029.91" y1="1068.2" x2="1029.91" y2="1079" class="tk"/>
<line x1="1109.41" y1="1068.2" x2="1109.41" y2="1079" class="tk"/>
<line x1="1149.16" y1="1068.2" x2="1149.16" y2="1079" class="tk"/>
<line x1="1188.9" y1="1068.2" x2="1188.9" y2="1079" class="tk"/>
<line x1="1228.65" y1="1068.2" x2="1228.65" y2="1079" class="tk"/>
<line x1="1308.15" y1="1068.2" x2="1308.15" y2="1079" class="tk"/>
<line x1="1347.9" y1="1068.2" x2="1347.9" y2="1079" class="tk"/>
<line x1="1387.64" y1="1068.2" x2="1387.64" y2="1079" class="tk"/>
<line x1="1427.39" y1="1068.2" x2="1427.39" y2="1079" class="tk"/>
<line x1="1506.89" y1="1068.2" x2="1506.89" y2="1079" class="tk"/>
<line x1="1546.64" y1="1068.2" x2="1546.64" y2="1079" class="tk"/>
<line x1="1586.38" y1="1068.2" x2="1586.38" y2="1079" class="tk"/>
<line x1="1626.13" y1="1068.2" x2="1626.13" y2="1079" class="tk"/>
<line x1="1705.63" y1="1068.2" x2="1705.63" y2="1079" class="tk"/>
<line x1="1745.38" y1="1068.2" x2="1745.38" y2="1079" class="tk"/>
<line x1="1785.12" y1="1068.2" x2="1785.12" y2="1079" class="tk"/>
<g class="tl">
<text x="228" y="970.1" text-anchor="end" textLength="68.92" lengthAdjust="spacingAndGlyphs">100</text>
<text x="228" y="846.95" text-anchor="end" textLength="68.92" lengthAdjust="spacingAndGlyphs">200</text>
<text x="228" y="723.8" text-anchor="end" textLength="68.92" lengthAdjust="spacingAndGlyphs">300</text>
<text x="228" y="600.65" text-anchor="end" textLength="68.92" lengthAdjust="spacingAndGlyphs">400</text>
<text x="228" y="477.5" text-anchor="end" textLength="68.92" lengthAdjust="spacingAndGlyphs">500</text>
<text x="228" y="354.35" text-anchor="end" textLength="68.92" lengthAdjust="spacingAndGlyphs">600</text>
<text x="228" y="231.2" text-anchor="end" textLength="68.92" lengthAdjust="spacingAndGlyphs">700</text>
<text x="274.7" y="1117.2" text-anchor="middle" textLength="126.35" lengthAdjust="spacingAndGlyphs">354.00</text>
<text x="473.44" y="1117.2" text-anchor="middle" textLength="126.35" lengthAdjust="spacingAndGlyphs">354.25</text>
<text x="672.18" y="1117.2" text-anchor="middle" textLength="126.35" lengthAdjust="spacingAndGlyphs">354.50</text>
<text x="870.92" y="1117.2" text-anchor="middle" textLength="126.35" lengthAdjust="spacingAndGlyphs">354.75</text>
<text x="1069.66" y="1117.2" text-anchor="middle" textLength="126.35" lengthAdjust="spacingAndGlyphs">355.00</text>
<text x="1268.4" y="1117.2" text-anchor="middle" textLength="126.35" lengthAdjust="spacingAndGlyphs">355.25</text>
<text x="1467.14" y="1117.2" text-anchor="middle" textLength="126.35" lengthAdjust="spacingAndGlyphs">355.50</text>
<text x="1665.88" y="1117.2" text-anchor="middle" textLength="126.35" lengthAdjust="spacingAndGlyphs">355.75</text>
</g>
<text x="1025.2" y="1171.8" text-anchor="middle" font-size="58.4" textLength="272.13" lengthAdjust="spacingAndGlyphs">Age (Myr)</text>
<text x="0" y="0" transform="translate(141.5 606.3) rotate(-90)" text-anchor="middle" font-size="58.4" textLength="465.89" lengthAdjust="spacingAndGlyphs">O1 period (days)</text>
</svg>
</body></html>
